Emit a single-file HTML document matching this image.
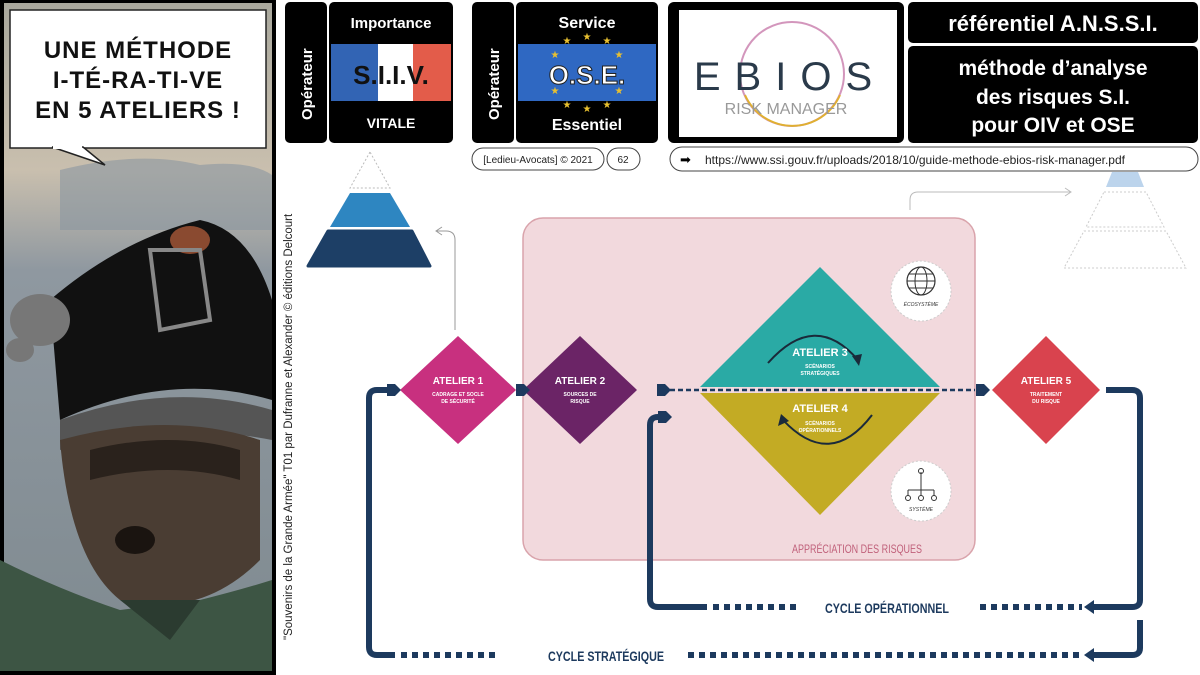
<!DOCTYPE html>
<html><head><meta charset="utf-8"><style>
body{margin:0;width:1200px;height:675px;overflow:hidden;background:#fff;font-family:"Liberation Sans",sans-serif}
svg{position:absolute;left:0;top:0}
</style></head><body>
<svg width="1200" height="675" viewBox="0 0 1200 675" xmlns="http://www.w3.org/2000/svg" font-family="Liberation Sans, sans-serif">
<defs>
<linearGradient id="sky" x1="0" y1="0" x2="0" y2="1">
<stop offset="0" stop-color="#a9a89d"/><stop offset="0.25" stop-color="#c9bfae"/><stop offset="0.4" stop-color="#8f98a0"/><stop offset="1" stop-color="#7f8a90"/></linearGradient>
</defs>
<!-- comic panel -->
<rect x="0" y="0" width="276" height="675" fill="#000"/>
<rect x="4" y="3" width="268" height="668" fill="url(#sky)"/>
<path d="M60 170 Q140 150 200 165 Q250 160 272 175 L272 230 L60 230Z" fill="#8b96a0" opacity="0.6"/>
<path d="M50 300 Q120 240 200 220 Q250 230 272 300 L272 400 Q170 370 60 420Z" fill="#111"/>
<ellipse cx="190" cy="240" rx="20" ry="14" fill="#8a4a30"/>
<ellipse cx="40" cy="320" rx="30" ry="26" fill="#777"/>
<ellipse cx="20" cy="350" rx="14" ry="12" fill="#777"/>
<path d="M150 250 L200 250 L210 320 L160 330Z" fill="none" stroke="#888" stroke-width="4"/>
<path d="M60 420 Q170 380 272 410 L272 440 Q170 420 60 450Z" fill="#555"/>
<path d="M60 440 Q170 410 260 440 L260 560 Q200 620 120 600 Q70 560 60 440Z" fill="#4a3d33"/>
<path d="M90 450 Q170 430 240 450 L240 480 Q170 460 90 480Z" fill="#2a221c"/>
<ellipse cx="135" cy="540" rx="20" ry="14" fill="#1a1410"/>
<path d="M0 560 Q60 590 120 610 L200 600 Q240 590 272 580 L272 671 L0 671Z" fill="#3d5544"/>
<path d="M120 600 L170 640 L200 600Z" fill="#2b3b30"/>
<rect x="10" y="10" width="256" height="138" fill="#fff" stroke="#222" stroke-width="1.5"/>
<path d="M52 147 L105 165 L83 147Z" fill="#fff" stroke="#222" stroke-width="1.5"/>
<rect x="53" y="144" width="29" height="5" fill="#fff"/>
<g font-weight="bold" font-size="24" text-anchor="middle" fill="#111" letter-spacing="1">
<text x="138" y="58">UNE MÉTHODE</text>
<text x="138" y="88">I-TÉ-RA-TI-VE</text>
<text x="138" y="118">EN 5 ATELIERS !</text></g>
<text transform="translate(292,640) rotate(-90)" font-size="11.5" fill="#222">"Souvenirs de la Grande Armée" T01 par Dufranne et Alexander © éditions Delcourt</text>

<rect x="285" y="2" width="42" height="141" rx="5" fill="#000"/>
<text transform="translate(312,120) rotate(-90)" font-size="15" font-weight="bold" fill="#fff">Opérateur</text>
<rect x="329" y="2" width="124" height="141" rx="5" fill="#000"/>
<rect x="331" y="44" width="47" height="57" fill="#3264b4"/><rect x="378" y="44" width="35" height="57" fill="#fff"/><rect x="413" y="44" width="38" height="57" fill="#e35c4a"/>
<text x="391" y="28" font-size="15" font-weight="bold" fill="#fff" text-anchor="middle">Importance</text>
<text x="391" y="84" font-size="26" font-weight="bold" fill="#111" text-anchor="middle">S.I.I.V.</text>
<text x="391" y="128" font-size="14" font-weight="bold" fill="#fff" text-anchor="middle">VITALE</text>
<rect x="472" y="2" width="42" height="141" rx="5" fill="#000"/>
<text transform="translate(499,120) rotate(-90)" font-size="15" font-weight="bold" fill="#fff">Opérateur</text>
<rect x="516" y="2" width="142" height="141" rx="5" fill="#000"/>
<rect x="518" y="44" width="138" height="57" fill="#2f68c2"/>
<text x="587" y="28" font-size="16" font-weight="bold" fill="#fff" text-anchor="middle">Service</text>
<text x="587" y="84" font-size="26" font-weight="bold" fill="#fff" stroke="#222" stroke-width="1" text-anchor="middle">O.S.E.</text>
<text x="587" y="130" font-size="16" font-weight="bold" fill="#fff" text-anchor="middle">Essentiel</text>
<g fill="#e8c030" font-size="10" text-anchor="middle"><text x="567" y="44">★</text><text x="587" y="40">★</text><text x="607" y="44">★</text><text x="567" y="108">★</text><text x="587" y="112">★</text><text x="607" y="108">★</text><text x="555" y="58">★</text><text x="619" y="58">★</text><text x="555" y="94">★</text><text x="619" y="94">★</text></g>
<rect x="472" y="148" width="132" height="22" rx="11" fill="#fff" stroke="#444"/>
<text x="538" y="163" font-size="10" fill="#222" text-anchor="middle">[Ledieu-Avocats] © 2021</text>
<rect x="607" y="148" width="33" height="22" rx="11" fill="#fff" stroke="#444"/>
<text x="623" y="163" font-size="10" fill="#222" text-anchor="middle">62</text>
<rect x="668" y="2" width="236" height="141" rx="6" fill="#000"/>
<rect x="679" y="10" width="218" height="127" fill="#fff"/>
<circle cx="792" cy="74" r="52" fill="none" stroke="#c06aa0" stroke-width="2" opacity="0.7"/>
<path d="M745 95 A52 52 0 0 0 840 95" fill="none" stroke="#e0b030" stroke-width="2"/>
<text x="790" y="90" font-size="40" fill="#2a3a4a" text-anchor="middle" letter-spacing="14">EBIOS</text>
<text x="786" y="114" font-size="16" fill="#999" text-anchor="middle">RISK MANAGER</text>
<rect x="908" y="2" width="290" height="41" rx="5" fill="#000"/>
<text x="1053" y="31" font-size="22" font-weight="bold" fill="#fff" text-anchor="middle">référentiel A.N.S.S.I.</text>
<rect x="908" y="46" width="290" height="97" rx="5" fill="#000"/>
<g font-size="21" font-weight="bold" fill="#fff" text-anchor="middle"><text x="1053" y="75">méthode d’analyse</text><text x="1053" y="104">des risques S.I.</text><text x="1053" y="132">pour OIV et OSE</text></g>
<rect x="670" y="147" width="528" height="24" rx="12" fill="#fff" stroke="#444"/>
<text x="680" y="164" font-size="13" fill="#000">➡</text>
<text x="915" y="164" font-size="12" fill="#222" text-anchor="middle">https://www.ssi.gouv.fr/uploads/2018/10/guide-methode-ebios-risk-manager.pdf</text>

<path d="M370 152 L350 188 L390 188Z" fill="none" stroke="#bbb" stroke-dasharray="2,2"/>
<path d="M350 193 L390 193 L410 227 L330 227Z" fill="#2e86c1"/>
<path d="M328 231 L412 231 L430 266 L308 266Z" fill="#1d3f66" stroke="#1d3f66" stroke-width="3" stroke-linejoin="round"/>
<path d="M1112 172 L1138 172 L1144 187 L1106 187Z" fill="#bcd4ec"/>
<path d="M1104 192 L1146 192 L1164 227 L1086 227Z" fill="none" stroke="#ccc" stroke-dasharray="2,2"/>
<path d="M1084 231 L1166 231 L1186 268 L1064 268Z" fill="none" stroke="#ccc" stroke-dasharray="2,2"/>
<path d="M455 330 L455 240 Q455 231 446 231 L437 231" fill="none" stroke="#999" stroke-width="1"/>
<path d="M442 227 L436 231 L442 235" fill="none" stroke="#999"/>
<path d="M910 210 L910 200 Q910 192 918 192 L1070 192" fill="none" stroke="#bbb" stroke-width="1"/>
<path d="M1065 188 L1071 192 L1065 196" fill="none" stroke="#bbb"/>

<rect x="523" y="218" width="452" height="342" rx="20" fill="#f2d9dd" stroke="#d9a3ab" stroke-width="1.5"/>
<text x="857" y="553" font-size="12" fill="#c0607a" text-anchor="middle" textLength="130" lengthAdjust="spacingAndGlyphs">APPRÉCIATION DES RISQUES</text>

<path d="M820 267 L940 387 L700 387Z" fill="#2aaaa5"/>
<path d="M700 393 L940 393 L820 515Z" fill="#c3ab24"/>
<path d="M662 390 L975 390" stroke="#1d3a5e" stroke-width="2.5" stroke-dasharray="5,3"/>
<path d="M768 363 Q815 310 858 360" fill="none" stroke="#1a2a3a" stroke-width="2"/>
<path d="M852 356 L859 366 L862 354Z" fill="#1a2a3a"/>
<path d="M872 415 Q830 470 783 420" fill="none" stroke="#1a2a3a" stroke-width="2"/>
<path d="M778 426 L781 414 L789 421Z" fill="#1a2a3a"/>
<g fill="#fff" text-anchor="middle" font-weight="bold">
<text x="820" y="356" font-size="11">ATELIER 3</text><text x="820" y="368" font-size="5">SCÉNARIOS</text><text x="820" y="375" font-size="5">STRATÉGIQUES</text>
<text x="820" y="412" font-size="11">ATELIER 4</text><text x="820" y="425" font-size="5">SCÉNARIOS</text><text x="820" y="432" font-size="5">OPÉRATIONNELS</text></g>
<circle cx="921" cy="291" r="30" fill="#fff" stroke="#ccc" stroke-dasharray="2,2"/>
<circle cx="921" cy="281" r="14" fill="none" stroke="#333" stroke-width="1.2"/>
<ellipse cx="921" cy="281" rx="6" ry="14" fill="none" stroke="#333" stroke-width="1"/>
<path d="M907 281 L935 281 M909 274 L933 274 M909 288 L933 288" stroke="#333"/>
<text x="921" y="306" font-size="5" fill="#333" text-anchor="middle" font-style="italic">ÉCOSYSTÈME</text>
<circle cx="921" cy="491" r="30" fill="#fff" stroke="#ccc" stroke-dasharray="2,2"/>
<path d="M921 472 L921 490 M908 490 L934 490 M908 490 L908 496 M921 490 L921 496 M934 490 L934 496" stroke="#333"/>
<circle cx="921" cy="471" r="2.5" fill="none" stroke="#333"/><circle cx="908" cy="498" r="2.5" fill="none" stroke="#333"/><circle cx="921" cy="498" r="2.5" fill="none" stroke="#333"/><circle cx="934" cy="498" r="2.5" fill="none" stroke="#333"/>
<text x="921" y="511" font-size="5" fill="#333" text-anchor="middle" font-style="italic">SYSTÈME</text>

<path d="M458 336 L516 390 L458 444 L400 390Z" fill="#c8307f"/>
<path d="M580 336 L637 390 L580 444 L523 390Z" fill="#6b2466"/>
<path d="M1046 336 L1100 390 L1046 444 L992 390Z" fill="#d9434e"/>
<g fill="#fff" text-anchor="middle" font-weight="bold">
<text x="458" y="384" font-size="10">ATELIER 1</text><text x="458" y="396" font-size="5">CADRAGE ET SOCLE</text><text x="458" y="403" font-size="5">DE SÉCURITÉ</text>
<text x="580" y="384" font-size="10">ATELIER 2</text><text x="580" y="396" font-size="5">SOURCES DE</text><text x="580" y="403" font-size="5">RISQUE</text>
<text x="1046" y="384" font-size="10">ATELIER 5</text><text x="1046" y="396" font-size="5">TRAITEMENT</text><text x="1046" y="403" font-size="5">DU RISQUE</text></g>
<g fill="#1d3a5e">
<path d="M516 384 L524 384 L530 390 L524 396 L516 396Z"/>
<path d="M657 384 L665 384 L671 390 L665 396 L657 396Z"/>
<path d="M976 384 L984 384 L990 390 L984 396 L976 396Z"/>
<path d="M658 411 L666 411 L672 417 L666 423 L658 423Z"/>
<path d="M387 384 L395 384 L401 390 L395 396 L387 396Z"/></g>

<g fill="none" stroke="#1d3a5e" stroke-width="6">
<path d="M1106 390 L1132 390 Q1140 390 1140 398 L1140 600 Q1140 607 1132 607 L1092 607"/>
<path d="M707 607 L658 607 Q650 607 650 599 L650 425 Q650 417 658 417 L660 417"/>
<path d="M1140 620 L1140 648 Q1140 655 1132 655 L1092 655"/>
<path d="M395 655 L377 655 Q369 655 369 647 L369 398 Q369 390 377 390 L388 390"/>
</g>
<path d="M1084 607 L1094 600 L1094 614Z" fill="#1d3a5e"/>
<path d="M1084 655 L1094 648 L1094 662Z" fill="#1d3a5e"/>
<g stroke="#1d3a5e" stroke-width="6" stroke-dasharray="6,5">
<path d="M713 607 L796 607"/><path d="M980 607 L1082 607"/>
<path d="M401 655 L500 655"/><path d="M688 655 L1082 655"/></g>
<text x="887" y="613" font-size="14" font-weight="bold" fill="#1d3a5e" text-anchor="middle" textLength="124" lengthAdjust="spacingAndGlyphs">CYCLE OPÉRATIONNEL</text>
<text x="606" y="661" font-size="14" font-weight="bold" fill="#1d3a5e" text-anchor="middle" textLength="116" lengthAdjust="spacingAndGlyphs">CYCLE STRATÉGIQUE</text>
</svg>
</body></html>
